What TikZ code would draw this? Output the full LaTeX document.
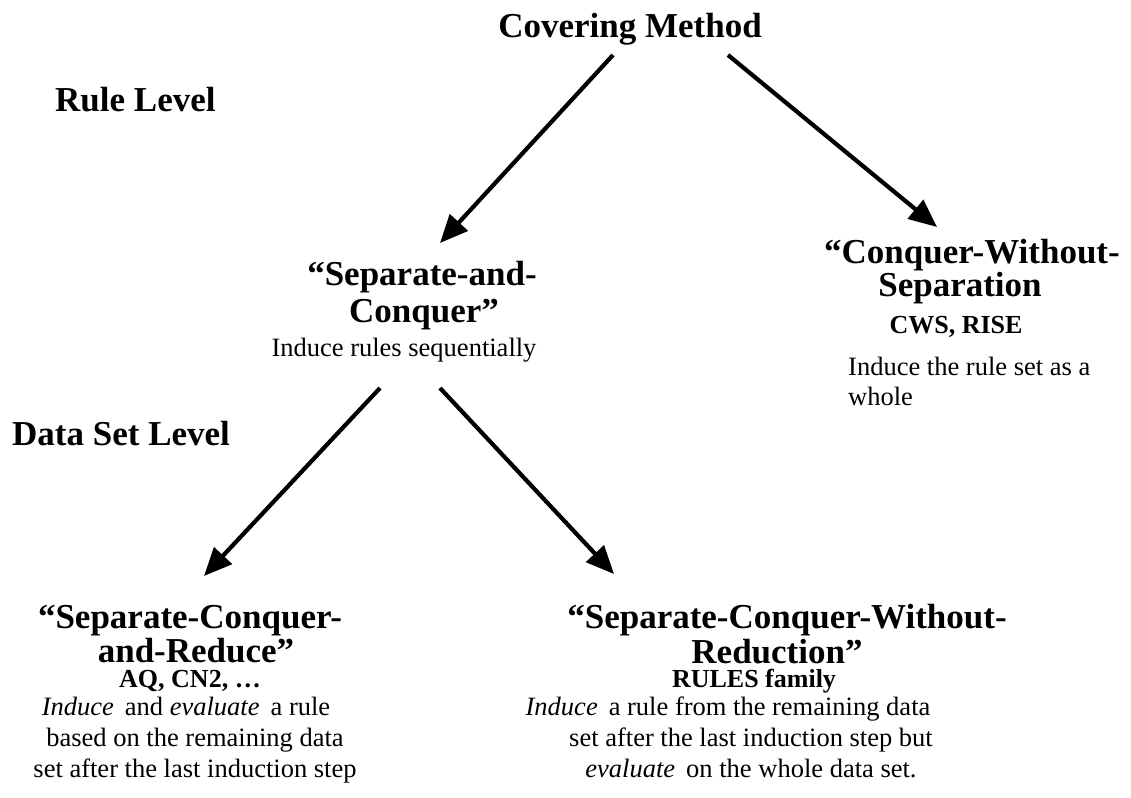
\documentclass[tikz,border=0pt]{standalone}
\usepackage{fontspec}
\setmainfont{Liberation Serif}
\usetikzlibrary{arrows.meta}
\tikzset{
  lvl/.style={font=\fontsize{35}{40}\selectfont\bfseries, inner sep=0pt, anchor=base},
  sub/.style={font=\fontsize{26}{30}\selectfont\bfseries, inner sep=0pt, anchor=base},
  tx/.style={font=\fontsize{26.5}{30}\selectfont, inner sep=0pt, anchor=base},
  arr/.style={line width=4.2pt, -{Triangle[length=28pt,width=24pt]}},
}
\begin{document}
\begin{tikzpicture}[x=1pt,y=-1pt]
\useasboundingbox[fill=white] (0,0) rectangle (1131,797);
% top
\node[lvl] (cm) at (630,38) {Covering Method};
\node[lvl,anchor=base west] (rl) at (55,112) {Rule Level};
\node[lvl,anchor=base west] (dsl) at (12,445) {Data Set Level};
% Separate-and-Conquer
\node[lvl] (sac1) at (422,285) {“Separate-and-};
\node[lvl] (sac2) at (424,322) {Conquer”};
\node[tx] (sac3) at (404,356) {Induce rules sequentially};
% Conquer-Without-Separation
\node[lvl] (cws1) at (972,263) {“Conquer-Without-};
\node[lvl] (cws2) at (960,296) {Separation};
\node[sub] (cws3) at (956,333) {CWS, RISE};
\node[tx,anchor=base west] (cws4) at (848,375) {Induce the rule set as a};
\node[tx,anchor=base west] (cws5) at (848,405) {whole};
% Separate-Conquer-and-Reduce
\node[lvl] (scr1) at (190,628) {“Separate-Conquer-};
\node[lvl] (scr2) at (196,662) {and-Reduce”};
\node[sub] (scr3) at (190,687) {AQ, CN2, …};
\node[tx] (scr4) at (186,715) {\textit{Induce}\, and \textit{evaluate}\, a rule};
\node[tx] (scr5) at (195,746) {based on the remaining data};
\node[tx] (scr6) at (195,777) {set after the last induction step};
% Separate-Conquer-Without-Reduction
\node[lvl] (scwr1) at (787,628) {“Separate-Conquer-Without-};
\node[lvl] (scwr2) at (777,663) {Reduction”};
\node[sub] (scwr3) at (754,687) {RULES family};
\node[tx] (scwr4) at (728,715) {\textit{Induce}\, a rule from the remaining data};
\node[tx] (scwr5) at (751,746) {set after the last induction step but};
\node[tx] (scwr6) at (751,777) {\textit{evaluate}\, on the whole data set.};
% arrows
\draw[arr] ([shift={(-17,17)}]cm.base) -- ([shift={(18,-42)}]sac1.base);
\draw[arr] ([shift={(98,17)}]cm.base) -- ([shift={(-35,-36)}]cws1.base);
\draw[arr] ([shift={(-24,32)}]sac3.base) -- ([shift={(14,-52)}]scr1.base);
\draw[arr] ([shift={(36,32)}]sac3.base) -- ([shift={(-173,-54)}]scwr1.base);
\end{tikzpicture}
\end{document}
